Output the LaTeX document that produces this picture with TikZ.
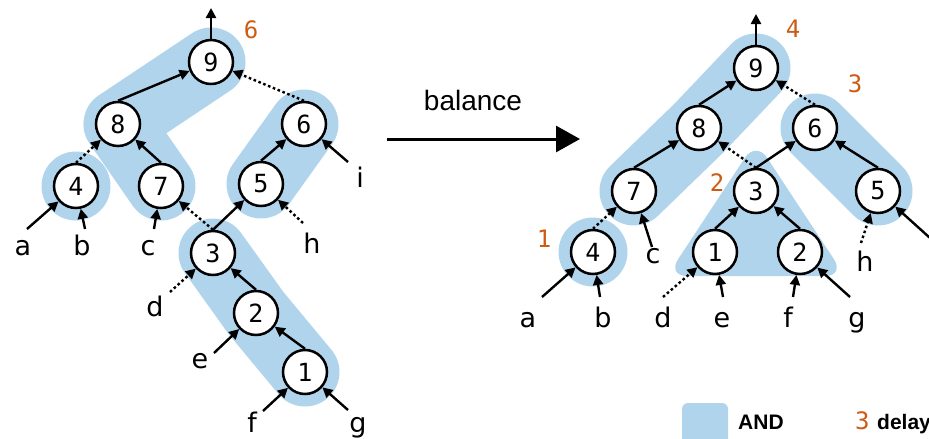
\documentclass[tikz,border=0pt]{standalone}
\usepackage{fontspec}
\setmainfont{DejaVu Sans}
\newfontfamily\numfont{DejaVu Sans Mono}
\newfontfamily\arialfont{Liberation Sans}
\usetikzlibrary{arrows.meta,backgrounds}
\definecolor{andblue}{RGB}{176,212,236}
\definecolor{dlyorange}{RGB}{204,92,20}
\begin{document}
\begin{tikzpicture}[x=1pt,y=-1pt,
 gate/.style={circle,draw,line width=2.5pt,fill=white,minimum size=44pt,inner sep=0pt,font=\numfont\fontsize{25}{25}\selectfont},
 blob/.style={line width=69pt,line cap=round,line join=round,draw=andblue},
 wire/.style={line width=2.4pt,-{Triangle[length=10pt,width=10pt]}},
 inv/.style={wire,dash pattern=on 2.6pt off 2.6pt},
 lbl/.style={font=\fontsize{27}{27}\selectfont,inner sep=0pt,anchor=base},
 dly/.style={font=\numfont\fontsize{24}{24}\selectfont,text=dlyorange,inner sep=0pt,anchor=base},
]
\useasboundingbox (0,0) rectangle (929,439);
\clip (0,0) rectangle (929,439);

% ---------- left tree ----------
\node[gate] (L9) at (211,62) {9};
\node[gate] (L8) at (118,124) {8};
\node[gate] (L6) at (304,124) {6};
\node[gate] (L4) at (76,186) {4};
\node[gate] (L7) at (161,186) {7};
\node[gate] (L5) at (261,184) {5};
\node[gate] (L3) at (213,253) {3};
\node[gate] (L2) at (256,313) {2};
\node[gate] (L1) at (305,372) {1};

\begin{scope}[on background layer]
\draw[blob] (L9.center) -- (L8.center) -- (L7.center);
\draw[blob] (L5.center) -- (L6.center);
\draw[blob] (L3.center) -- (L2.center) -- (L1.center);
\fill[andblue] (L4.center) circle[radius=34.5pt];
\end{scope}

\coordinate (Lout) at (211,8);
\coordinate (La) at (27,229);
\coordinate (Lb) at (85,229);
\coordinate (Lc) at (154,229);
\coordinate (Lh) at (303,223);
\coordinate (Li) at (348,162);
\coordinate (Ld) at (170,292);
\coordinate (Le) at (214,353);
\coordinate (Lf) at (263,411);
\coordinate (Lg) at (348,410);

\draw[wire] (L9.north) -- (Lout);
\draw[wire] (L8.north) -- (L9);
\draw[inv] (L6.north) -- (L9);
\draw[inv] (L4.north) -- (L8);
\draw[wire] (L7.north) -- (L8);
\draw[wire] (L5.north) -- (L6);
\draw[wire] (Li) -- (L6);
\draw[wire] (La) -- (L4);
\draw[wire] (Lb) -- (L4);
\draw[wire] (Lc) -- (L7);
\draw[inv] (L3.north) -- (L7);
\draw[wire] (L3.north) -- (L5);
\draw[inv] (Lh) -- (L5);
\draw[inv] (Ld) -- (L3);
\draw[wire] (L2.north) -- (L3);
\draw[wire] (Le) -- (L2);
\draw[wire] (L1.north) -- (L2);
\draw[wire] (Lf) -- (L1);
\draw[wire] (Lg) -- (L1);

\node[lbl] (tLa) at (23,255) {a};
\node[lbl] (tLb) at (82,255) {b};
\node[lbl] (tLc) at (148,255) {c};
\node[lbl] (tLh) at (312,253) {h};
\node[lbl] (tLi) at (360,187) {i};
\node[lbl] (tLd) at (155,316) {d};
\node[lbl] (tLe) at (200,368) {e};
\node[lbl] (tLf) at (252,432) {f};
\node[lbl] (tLg) at (358,432) {g};
\node[dly] (dL9) at (251,38) {6};

% ---------- balance arrow ----------
\coordinate (bs) at (387,139);
\coordinate (be) at (580,139);
\draw[line width=3pt,-{Triangle[length=24pt,width=26pt]}] (bs) -- (be);
\node[font=\arialfont\fontsize{28}{28}\selectfont,inner sep=0pt,anchor=base] (bal) at (473,110) {balance};

% ---------- right tree ----------
\node[gate] (R9) at (756,68) {9};
\node[gate] (R8) at (699,128) {8};
\node[gate] (R6) at (815,128) {6};
\node[gate] (R7) at (634,191) {7};
\node[gate] (R3) at (756,191) {3};
\node[gate] (R5) at (878,191) {5};
\node[gate] (R4) at (593,252) {4};
\node[gate] (R1) at (715,252) {1};
\node[gate] (R2) at (800,252) {2};

\begin{scope}[on background layer]
\draw[blob] (R9.center) -- (R8.center) -- (R7.center);
\draw[blob] (R6.center) -- (R5.center);
\fill[andblue] (R4.center) circle[radius=34.5pt];
\fill[andblue,rounded corners=20pt] (756,141) -- (845,276) -- (667,276) -- cycle;
\end{scope}

\coordinate (Rout) at (756,14);
\coordinate (Ra) at (542,297);
\coordinate (Rb) at (600,297);
\coordinate (Rc) at (652,247);
\coordinate (Rd) at (663,297);
\coordinate (Re) at (723,297);
\coordinate (Rf) at (793,297);
\coordinate (Rg) at (850,297);
\coordinate (Rh) at (861,243);
\coordinate (Ri) at (940,247);

\draw[wire] (R9.north) -- (Rout);
\draw[wire] (R8.north) -- (R9);
\draw[inv] (R6.north) -- (R9);
\draw[wire] (R7.north) -- (R8);
\draw[inv] (R3.north) -- (R8);
\draw[wire] (R3.north) -- (R6);
\draw[wire] (R5.north) -- (R6);
\draw[inv] (R4.north) -- (R7);
\draw[wire] (Rc) -- (R7);
\draw[wire] (R1.north) -- (R3);
\draw[wire] (R2.north) -- (R3);
\draw[wire] (Ra) -- (R4);
\draw[wire] (Rb) -- (R4);
\draw[inv] (Rd) -- (R1);
\draw[wire] (Re) -- (R1);
\draw[wire] (Rf) -- (R2);
\draw[wire] (Rg) -- (R2);
\draw[inv] (Rh) -- (R5);
\draw[wire] (Ri) -- (R5);

\node[lbl] (tRa) at (528,327) {a};
\node[lbl] (tRb) at (603,327) {b};
\node[lbl] (tRc) at (653,263) {c};
\node[lbl] (tRd) at (663,327) {d};
\node[lbl] (tRe) at (722,327) {e};
\node[lbl] (tRf) at (788,327) {f};
\node[lbl] (tRg) at (857,327) {g};
\node[lbl] (tRh) at (865,271) {h};

\node[dly] (dR9) at (793,37) {4};
\node[dly] (dR6) at (855,92) {3};
\node[dly] (dR3) at (717,191) {2};
\node[dly] (dR4) at (544,247) {1};

% ---------- legend ----------
\fill[andblue,rounded corners=6pt] (682,403) rectangle (728,455);
\node[font=\arialfont\bfseries\fontsize{21}{21}\selectfont,inner sep=0pt,anchor=base west] (legand) at (738,429) {AND};
\node[dly,anchor=base west] (legthree) at (855,429) {3};
\node[font=\arialfont\bfseries\fontsize{21}{21}\selectfont,inner sep=0pt,anchor=base west] (legdelay) at (877,429) {delay};
\end{tikzpicture}
\end{document}
